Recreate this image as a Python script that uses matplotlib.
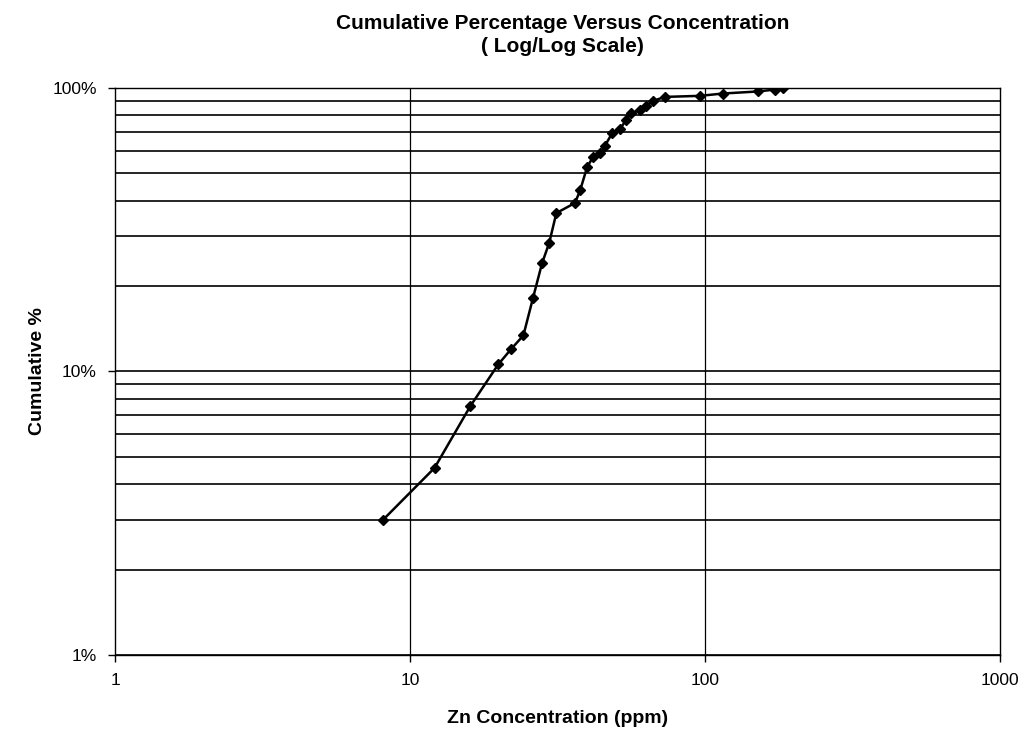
import numpy as np
import matplotlib.pyplot as plt
from matplotlib.ticker import FixedLocator, FixedFormatter, NullLocator

plt.rcParams["font.family"] = ["Liberation Sans", "DejaVu Sans"]

zn_ppm = [8.1, 12.1, 16.0, 19.9, 22.0, 24.2, 26.1, 28.0, 29.6, 31.3,
          36.2, 37.7, 39.8, 41.7, 44.0, 45.7, 48.4, 51.5, 53.9, 56.1,
          60.2, 63.0, 66.5, 73.0, 96.0, 115.0, 151.0, 172.0, 183.0]
cum_pct = [3.0, 4.57, 7.55, 10.6, 12.0, 13.4, 18.2, 24.1, 28.4, 36.2,
           39.3, 43.6, 52.6, 57.1, 59.0, 62.4, 69.4, 71.7, 77.1, 81.6,
           83.6, 86.4, 90.0, 93.0, 93.8, 95.6, 97.2, 98.7, 100.0]

y_ticks = [1, 10, 100]
y_labels = ["1%", "10%", "100%"]
x_ticks = [1, 10, 100, 1000]
x_labels = ["1", "10", "100", "1000"]

fig = plt.figure(figsize=(10.27, 7.48), dpi=100)
ax = fig.add_axes([0.112, 0.1243, 0.862, 0.7581])

ax.set_xscale("log")
ax.set_yscale("log")
ax.set_xlim(1, 1000)
ax.set_ylim(1, 100)

# horizontal grid at every 1..9 step, vertical only at decades
h_lines = [m * d for d in (1, 10) for m in range(1, 10)] + [100]
for h in h_lines:
    ax.axhline(h, color="black", lw=1.2, zorder=1)
for v in (10, 100):
    ax.axvline(v, color="black", lw=0.9, zorder=1)

ax.plot(zn_ppm, cum_pct, color="black", lw=1.8, marker="D", ms=5.5,
        mfc="black", mec="black", zorder=3)

ax.xaxis.set_major_locator(FixedLocator(x_ticks))
ax.xaxis.set_major_formatter(FixedFormatter(x_labels))
ax.xaxis.set_minor_locator(NullLocator())
ax.yaxis.set_major_locator(FixedLocator(y_ticks))
ax.yaxis.set_major_formatter(FixedFormatter(y_labels))
ax.yaxis.set_minor_locator(NullLocator())
ax.tick_params(axis="both", direction="out", length=5, width=1,
               labelsize=12.5, pad=8)

for s in ax.spines.values():
    s.set_linewidth(1.0)

ax.set_xlabel("Zn Concentration (ppm)", fontsize=14, fontweight="bold",
              labelpad=16)
ax.set_ylabel("Cumulative %", fontsize=14, fontweight="bold", labelpad=5)
fig.text(0.548, 0.953, "Cumulative Percentage Versus Concentration\n( Log/Log Scale)",
         ha="center", va="center", fontsize=15, fontweight="bold",
         linespacing=1.3)

fig.savefig("out.png", dpi=100)
